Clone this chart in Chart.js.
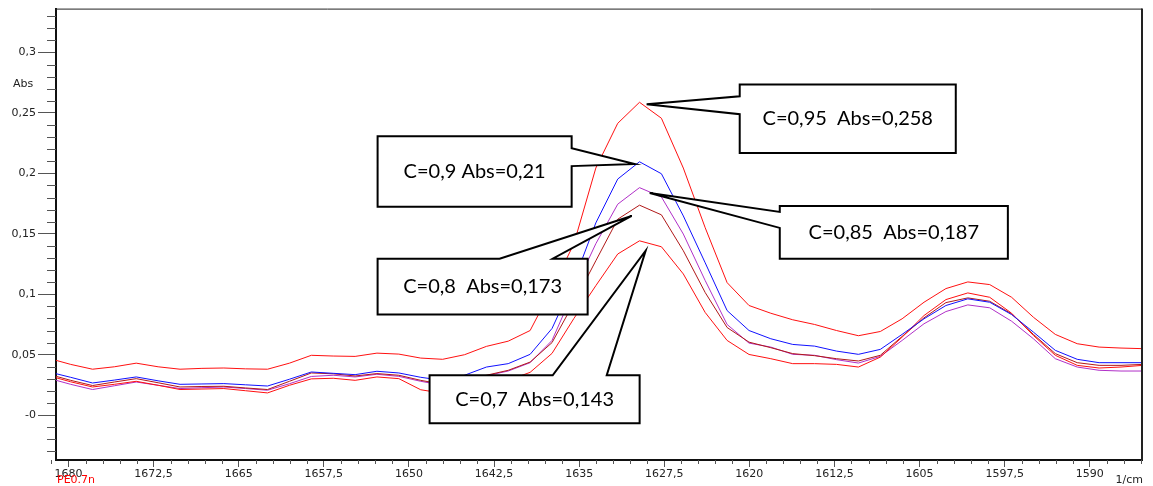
<!DOCTYPE html>
<html lang="es">
<head>
<meta charset="UTF-8">
<title>Abs - 1/cm</title>
<script src="https://cdn.jsdelivr.net/npm/chart.js@4.4.1/dist/chart.umd.min.js"></script>
<style>
  html, body { margin: 0; padding: 0; background: #fff; }
  #wrap { width: 1153px; height: 486px; }
</style>
</head>
<body>
<div id="wrap"><canvas id="spectra" width="1153" height="486"></canvas></div>
<script>
// eje x: numero de onda (1/cm)
const wavenumbers = [
  1681.74, 1679.81, 1677.88, 1675.96, 1674.03, 1672.10, 1670.17, 1668.24, 1666.31, 1664.39,
  1662.46, 1660.53, 1658.60, 1656.67, 1654.74, 1652.82, 1650.89, 1648.96, 1647.03, 1645.10,
  1643.17, 1641.25, 1639.32, 1637.39, 1635.46, 1633.53, 1631.60, 1629.68, 1627.75, 1625.82,
  1623.89, 1621.96, 1620.03, 1618.11, 1616.18, 1614.25, 1612.32, 1610.39, 1608.46, 1606.54,
  1604.61, 1602.68, 1600.75, 1598.82, 1596.89, 1594.97, 1593.04, 1591.11, 1589.18, 1587.25,
  1585.32
];

// absorbancias
const absC095 = [
  0.047, 0.042, 0.038, 0.040, 0.043, 0.040, 0.038, 0.0387, 0.039, 0.0383,
  0.038, 0.043, 0.0495, 0.0489, 0.0486, 0.0513, 0.0505, 0.0472, 0.0462, 0.050,
  0.0569, 0.0612, 0.070, 0.1047, 0.1418, 0.2044, 0.2414, 0.2588, 0.2456, 0.2044,
  0.155, 0.1096, 0.0907, 0.0843, 0.0789, 0.075, 0.070, 0.0657, 0.0692, 0.0797,
  0.0934, 0.1047, 0.1102, 0.108, 0.0975, 0.081, 0.0668, 0.0591, 0.0563, 0.0555,
  0.055
];
const absC090 = [
  0.0358, 0.0313, 0.0266, 0.029, 0.0316, 0.0284, 0.0255, 0.0258, 0.0261, 0.0251,
  0.0241, 0.0297, 0.0357, 0.0346, 0.0335, 0.0363, 0.0349, 0.0313, 0.0288, 0.033,
  0.0398, 0.0426, 0.0503, 0.0717, 0.111, 0.159, 0.1953, 0.2096, 0.1997, 0.1648,
  0.126, 0.0865, 0.070, 0.0632, 0.0585, 0.0571, 0.053, 0.0503, 0.0544, 0.0668,
  0.0797, 0.0907, 0.0962, 0.0934, 0.0832, 0.0687, 0.0536, 0.0462, 0.0434, 0.0434,
  0.0434
];
const absC085 = [
  0.0305, 0.0255, 0.0212, 0.0243, 0.0274, 0.0247, 0.022, 0.0227, 0.0233, 0.022,
  0.0206, 0.026, 0.032, 0.033, 0.0316, 0.0338, 0.0321, 0.028, 0.0247, 0.028,
  0.0326, 0.0365, 0.0434, 0.0618, 0.103, 0.1418, 0.1745, 0.1882, 0.1805, 0.1498,
  0.1113, 0.075, 0.0596, 0.0563, 0.0503, 0.0495, 0.0459, 0.0431, 0.0486, 0.0618,
  0.0756, 0.0857, 0.0912, 0.0888, 0.0777, 0.0632, 0.0467, 0.0398, 0.0371, 0.0365,
  0.0365
];
const absC080 = [
  0.0338, 0.0288, 0.0245, 0.0274, 0.0302, 0.0268, 0.0233, 0.0237, 0.0239, 0.0225,
  0.0212, 0.028, 0.0349, 0.0342, 0.0324, 0.0344, 0.033, 0.0288, 0.0255, 0.0288,
  0.033, 0.0371, 0.0439, 0.060, 0.093, 0.1277, 0.1621, 0.1737, 0.1657, 0.136,
  0.1014, 0.0725, 0.0604, 0.0558, 0.0509, 0.0492, 0.0467, 0.0448, 0.0495, 0.0651,
  0.0805, 0.0931, 0.097, 0.0942, 0.0838, 0.0668, 0.0509, 0.0434, 0.0412, 0.0412,
  0.042
];
const absC070 = [
  0.0326, 0.0276, 0.0233, 0.0255, 0.028, 0.0247, 0.0212, 0.0216, 0.022, 0.0202,
  0.0184, 0.0247, 0.030, 0.0305, 0.0288, 0.0316, 0.0302, 0.021, 0.0181, 0.0206,
  0.0247, 0.0288, 0.0354, 0.0511, 0.080, 0.1071, 0.1333, 0.1442, 0.1393, 0.1168,
  0.0849, 0.0618, 0.0502, 0.0467, 0.0426, 0.0426, 0.042, 0.0398, 0.048, 0.0645,
  0.0824, 0.0956, 0.1011, 0.0975, 0.0843, 0.0659, 0.0495, 0.0412, 0.039, 0.0398,
  0.0412
];

const xTickValues = [1680, 1672.5, 1665, 1657.5, 1650, 1642.5, 1635, 1627.5, 1620, 1612.5, 1605, 1597.5, 1590];
const xTickLabels = ['1680', '1672,5', '1665', '1657,5', '1650', '1642,5', '1635', '1627,5', '1620', '1612,5', '1605', '1597,5', '1590'];
const yTickValues = [0, 0.05, 0.1, 0.15, 0.2, 0.25, 0.3];
const yTickLabels = ['-0', '0,05', '0,1', '0,15', '0,2', '0,25', '0,3'];

// llamadas (en coordenadas de datos)
const callouts = [
  { text: 'C=0,95  Abs=0,258', box: [1620.85, 1601.81, 0.2736, 0.2168], side: 'left',  notch: [0.2637, 0.2489], tip: [1629.05, 0.2571] },
  { text: 'C=0,9 Abs=0,21',    box: [1652.76, 1635.66, 0.2308, 0.1723], side: 'right', notch: [0.2209, 0.2060], tip: [1630.11, 0.2077] },
  { text: 'C=0,85  Abs=0,187', box: [1617.32, 1597.22, 0.1731, 0.1294], side: 'left',  notch: [0.1681, 0.1549], tip: [1628.78, 0.1838] },
  { text: 'C=0,8  Abs=0,173',  box: [1652.76, 1634.25, 0.1294, 0.0832], side: 'top',   notch: [1642.01, 1637.33], tip: [1630.37, 0.1648] },
  { text: 'C=0,7  Abs=0,143',  box: [1648.18, 1629.67, 0.0330, -0.0066], side: 'top',  notch: [1637.33, 1632.57], tip: [1629.14, 0.1360] }
];

function toPoints(values) {
  return values.map((v, i) => ({ x: wavenumbers[i], y: v }));
}

const axisFont = { family: 'DejaVu Sans', size: 11 };

const extras = {
  id: 'extras',
  afterDraw(chart) {
    const ctx = chart.ctx;
    const xs = chart.scales.x, ys = chart.scales.y;
    const a = chart.chartArea;
    ctx.save();

    // ticks menores
    ctx.strokeStyle = '#555';
    ctx.lineWidth = 1;
    ctx.beginPath();
    for (let w = 1681.5; w >= 1585.5; w -= 1.5) {
      if (Math.abs(w / 7.5 - Math.round(w / 7.5)) < 1e-6) continue;
      const px = Math.round(xs.getPixelForValue(w)) + 0.5;
      ctx.moveTo(px, a.bottom);
      ctx.lineTo(px, a.bottom + 4);
    }
    for (let k = -3; k <= 33; k++) {
      if (k % 5 === 0) continue;
      const py = Math.round(ys.getPixelForValue(k / 100)) + 0.5;
      ctx.moveTo(a.left - 9, py);
      ctx.lineTo(a.left, py);
    }
    ctx.stroke();

    // marco superior y derecho
    ctx.strokeStyle = '#222';
    ctx.lineWidth = 1;
    ctx.beginPath();
    ctx.moveTo(a.left, a.top + 0.5);
    ctx.lineTo(a.right, a.top + 0.5);
    ctx.stroke();
    ctx.lineWidth = 2;
    ctx.beginPath();
    ctx.moveTo(a.right, a.top);
    ctx.lineTo(a.right, a.bottom);
    ctx.stroke();

    // textos sueltos
    ctx.font = '11px "DejaVu Sans"';
    ctx.fillStyle = '#222';
    ctx.textBaseline = 'middle';
    ctx.textAlign = 'center';
    ctx.fillText('Abs', 23, ys.getPixelForValue(0.274));
    ctx.textAlign = 'right';
    ctx.fillText('1/cm', a.right + 1, 480);
    ctx.textAlign = 'left';
    ctx.fillStyle = '#ff0000';
    ctx.fillText('PE0.7n', a.left + 1, 480);

    // llamadas
    ctx.lineWidth = 2;
    ctx.strokeStyle = '#000';
    ctx.lineJoin = 'miter';
    callouts.forEach(c => {
      const L = xs.getPixelForValue(c.box[0]), R = xs.getPixelForValue(c.box[1]);
      const T = ys.getPixelForValue(c.box[2]), B = ys.getPixelForValue(c.box[3]);
      const tx = xs.getPixelForValue(c.tip[0]), ty = ys.getPixelForValue(c.tip[1]);
      ctx.beginPath();
      if (c.side === 'left') {
        const n1 = ys.getPixelForValue(c.notch[0]), n2 = ys.getPixelForValue(c.notch[1]);
        ctx.moveTo(L, T); ctx.lineTo(R, T); ctx.lineTo(R, B); ctx.lineTo(L, B);
        ctx.lineTo(L, n2); ctx.lineTo(tx, ty); ctx.lineTo(L, n1);
      } else if (c.side === 'right') {
        const n1 = ys.getPixelForValue(c.notch[0]), n2 = ys.getPixelForValue(c.notch[1]);
        ctx.moveTo(L, T); ctx.lineTo(R, T); ctx.lineTo(R, n1); ctx.lineTo(tx, ty);
        ctx.lineTo(R, n2); ctx.lineTo(R, B); ctx.lineTo(L, B);
      } else {
        const n1 = xs.getPixelForValue(c.notch[0]), n2 = xs.getPixelForValue(c.notch[1]);
        ctx.moveTo(L, T); ctx.lineTo(n1, T); ctx.lineTo(tx, ty); ctx.lineTo(n2, T);
        ctx.lineTo(R, T); ctx.lineTo(R, B); ctx.lineTo(L, B);
      }
      ctx.closePath();
      ctx.fillStyle = '#fff';
      ctx.fill();
      ctx.stroke();
      ctx.fillStyle = '#000';
      ctx.font = '20px Lato';
      ctx.textAlign = 'center';
      ctx.textBaseline = 'middle';
      ctx.fillText(c.text, (L + R) / 2, (T + B) / 2);
    });
    ctx.restore();
  }
};

new Chart(document.getElementById('spectra'), {
  type: 'line',
  data: {
    datasets: [
      { label: 'C=0,95', data: toPoints(absC095), borderColor: '#ff1010' },
      { label: 'C=0,9',  data: toPoints(absC090), borderColor: '#1010ff' },
      { label: 'C=0,7',  data: toPoints(absC070), borderColor: '#ff1010' },
      { label: 'C=0,8',  data: toPoints(absC080), borderColor: '#b01818' },
      { label: 'C=0,85', data: toPoints(absC085), borderColor: '#b030c8' }
    ]
  },
  options: {
    responsive: false,
    animation: false,
    devicePixelRatio: 1,
    layout: { padding: { top: 7, right: 11, left: 0, bottom: 0 } },
    datasets: { line: { borderWidth: 1, pointRadius: 0, tension: 0, fill: false } },
    plugins: { legend: { display: false }, tooltip: { enabled: false } },
    scales: {
      x: {
        type: 'linear',
        reverse: true,
        min: 1585.4,
        max: 1681.1,
        afterBuildTicks: s => { s.ticks = xTickValues.map(v => ({ value: v })); },
        afterFit: s => { s.height = 26; },
        ticks: {
          autoSkip: false, maxRotation: 0, padding: 1,
          font: axisFont, color: '#222',
          callback: v => xTickLabels[xTickValues.indexOf(v)]
        },
        grid: { drawOnChartArea: false, tickLength: 7, color: '#555' },
        border: { color: '#111', width: 2 }
      },
      y: {
        min: -0.0371,
        max: 0.3363,
        afterBuildTicks: s => { s.ticks = yTickValues.map(v => ({ value: v })); },
        afterFit: s => { s.width = 56; },
        ticks: {
          padding: 2, font: axisFont, color: '#222',
          callback: v => yTickLabels[yTickValues.indexOf(v)]
        },
        grid: { drawOnChartArea: false, tickLength: 18, color: '#555' },
        border: { color: '#111', width: 2 }
      }
    }
  },
  plugins: [extras]
});
</script>
</body>
</html>
